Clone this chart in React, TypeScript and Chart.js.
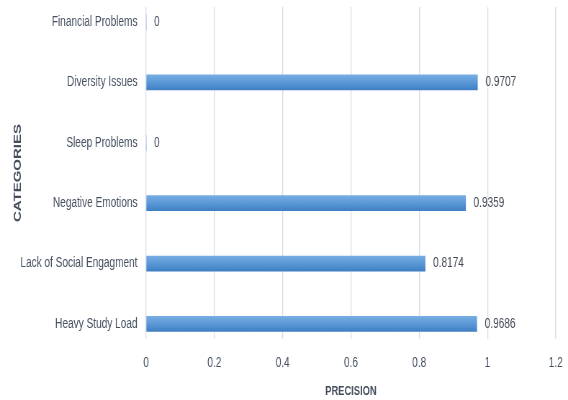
import React, { useEffect, useRef } from "react";
import { Chart, registerables } from "chart.js";

Chart.register(...registerables);

// Categories listed from top to bottom
const CATEGORIES = [
  "Financial Problems",
  "Diversity Issues",
  "Sleep Problems",
  "Negative Emotions",
  "Lack of Social Engagment",
  "Heavy Study Load",
];

const PRECISION = [0, 0.9707, 0, 0.9359, 0.8174, 0.9686];

const X_TICKS = [0, 0.2, 0.4, 0.6, 0.8, 1, 1.2];

// The bitmap is drawn wider than it is shown, which gives the condensed lettering.
const SHOW_W = 568;
const SHOW_H = 400;
const SQUEEZE = 0.72;
const DRAW_W = Math.round(SHOW_W / SQUEEZE);

const FONT = "'Liberation Sans', Arial, sans-serif";
const TEXT = "#455061";
const GRID = "#d6dde8";
const BAR_FLAT = "#5b98d6";

const valueLabels = {
  id: "valueLabels",
  afterDatasetsDraw(chart: any) {
    const ctx = chart.ctx;
    const meta = chart.getDatasetMeta(0);
    ctx.save();
    ctx.font = `14px ${FONT}`;
    ctx.fillStyle = "#434a55";
    ctx.textAlign = "left";
    ctx.textBaseline = "middle";
    meta.data.forEach((bar: any, i: number) => {
      ctx.fillText(String(PRECISION[i]), bar.x + 11, bar.y);
    });
    ctx.restore();
  },
};

export default function App() {
  const canvasRef = useRef<HTMLCanvasElement | null>(null);

  useEffect(() => {
    const canvas = canvasRef.current;
    if (!canvas) return;

    const chart = new Chart(canvas, {
      type: "bar",
      data: {
        datasets: [
          {
            label: "Precision",
            data: PRECISION.map((v, i) => ({ x: v, y: i })),
            barThickness: 15,
            borderWidth: 0,
            backgroundColor: (c: any) => {
              const ch = c.chart;
              const y = ch.scales?.y;
              if (c.type !== "data" || !y) return BAR_FLAT;
              const mid = y.getPixelForValue(c.dataIndex);
              if (!Number.isFinite(mid)) return BAR_FLAT;
              const g = ch.ctx.createLinearGradient(0, mid - 7.5, 0, mid + 7.5);
              g.addColorStop(0, "#76ade3");
              g.addColorStop(0.5, "#5b98d6");
              g.addColorStop(1, "#3f7fc3");
              return g;
            },
          },
        ],
      },
      options: {
        indexAxis: "y",
        responsive: false,
        animation: false,
        layout: { padding: { top: 7, right: 17, bottom: 0, left: 0 } },
        plugins: {
          legend: { display: false },
          tooltip: { enabled: false },
        },
        scales: {
          x: {
            type: "linear",
            min: 0,
            max: 1.2,
            afterBuildTicks: (scale: any) => {
              scale.ticks = X_TICKS.map((value) => ({ value }));
            },
            afterFit: (scale: any) => {
              scale.height = 61;
              scale.paddingLeft = 0;
              scale.paddingRight = 0;
            },
            ticks: {
              padding: 16,
              color: TEXT,
              font: { family: FONT, size: 14 },
              callback: (v: any) => String(Number(Number(v).toFixed(1))),
            },
            grid: { color: GRID, lineWidth: 1.3, drawTicks: false },
            border: { display: false },
            title: {
              display: true,
              text: "PRECISION",
              color: "#434d5c",
              font: { family: FONT, size: 13, weight: "bold" },
              padding: { top: 0, bottom: 1 },
            },
          },
          y: {
            type: "linear",
            reverse: true,
            offset: false,
            min: -0.25,
            max: 5.25,
            afterBuildTicks: (scale: any) => {
              scale.ticks = CATEGORIES.map((_, i) => ({ value: i }));
            },
            afterFit: (scale: any) => {
              scale.width = 203;
              scale.paddingTop = 0;
              scale.paddingBottom = 0;
            },
            ticks: {
              autoSkip: false,
              padding: 12,
              color: TEXT,
              font: { family: FONT, size: 14 },
              callback: (v: any) => CATEGORIES[Number(v)] ?? "",
            },
            grid: { display: false, drawTicks: false },
            border: { display: false },
            title: {
              display: true,
              text: "CATEGORIES",
              color: "#434d5c",
              font: { family: FONT, size: 15, weight: "bold" },
              padding: { top: 16, bottom: 0 },
            },
          },
        },
      },
      plugins: [valueLabels],
    });

    return () => chart.destroy();
  }, []);

  return (
    <div
      style={{
        position: "absolute",
        left: 0,
        top: 0,
        width: SHOW_W,
        height: SHOW_H,
        overflow: "hidden",
        background: "#fff",
      }}
    >
      <canvas
        ref={canvasRef}
        width={DRAW_W}
        height={SHOW_H}
        style={{ display: "block", width: SHOW_W, height: SHOW_H }}
      />
    </div>
  );
}
